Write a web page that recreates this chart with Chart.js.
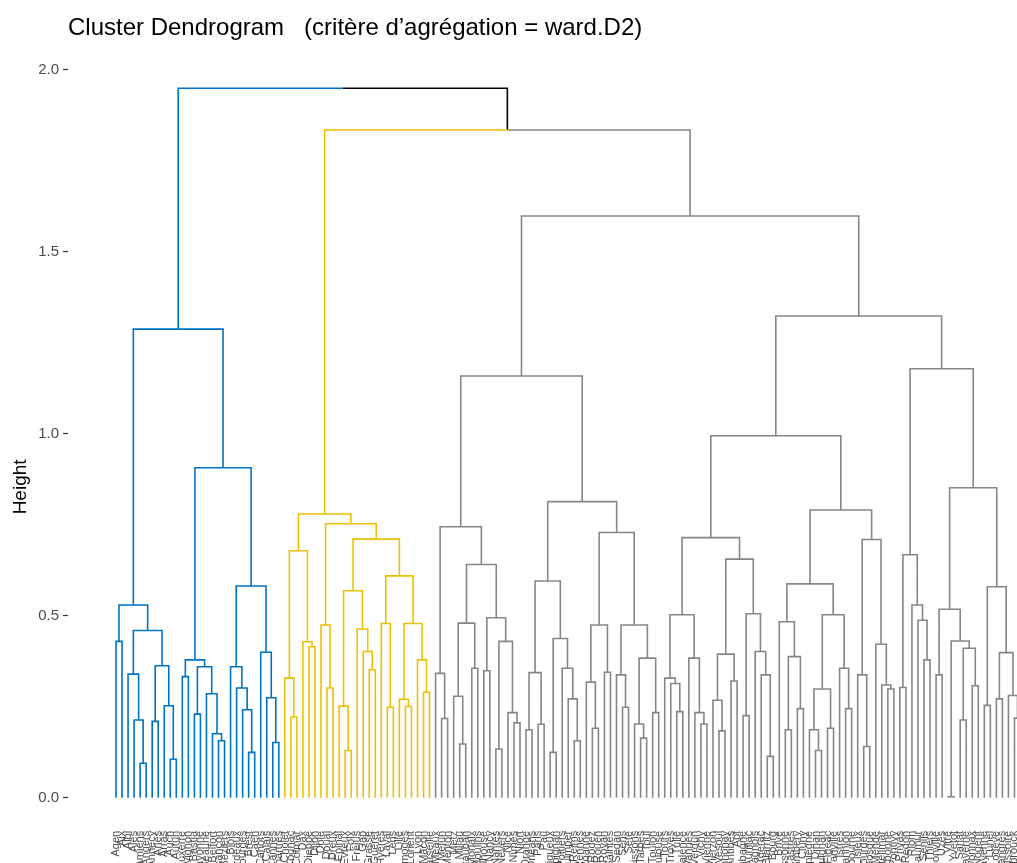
<!DOCTYPE html>
<html>
<head>
<meta charset="utf-8">
<script src="https://cdn.jsdelivr.net/npm/chart.js@4.4.1/dist/chart.umd.min.js"></script>
<style>
  html, body { margin: 0; padding: 0; overflow: hidden; background: #fff; }
  #wrap { width: 1017px; height: 924px; }
</style>
</head>
<body>
<div id="wrap"><canvas id="dend"></canvas></div>
<script>
// leaf marker; internal node = [height, left, right]
const o = null;

// cluster 1 (blue)
const blueTree = [1.288,
  [0.53, [0.43, o, o],
    [0.46, [0.34, o, [0.214, o, [0.095, o, o]]],
           [0.363, [0.21, o, o], [0.253, o, [0.106, o, o]]]]],
  [0.907,
    [0.379, [0.333, o, o], [0.36, [0.23, o, o], [0.286, o, [0.176, o, [0.157, o, o]]]]],
    [0.582, [0.36, o, [0.302, o, [0.242, o, [0.125, o, o]]]],
            [0.40, o, [0.275, o, [0.152, o, o]]]]]];

// cluster 2 (yellow)
const yellowTree = [0.78,
  [0.679, [0.329, o, [0.222, o, o]], [0.429, o, [0.415, o, o]]],
  [0.753, [0.475, o, [0.302, o, o]],
    [0.711,
      [0.569, [0.252, o, [0.13, o, o]], [0.464, o, [0.402, o, [0.352, o, o]]]],
      [0.61, [0.479, o, [0.249, o, o]],
             [0.479, [0.271, o, [0.251, o, o]], [0.379, o, [0.29, o, o]]]]]]];

// cluster 3 (grey)
const greyTree = [1.599,
  [1.159,
    [0.745, [0.342, o, [0.218, o, o]],
      [0.641, [0.48, [0.279, o, [0.148, o, o]], [0.356, o, o]],
              [0.495, [0.349, o, o], [0.43, [0.134, o, o], [0.234, o, [0.206, o, o]]]]]],
    [0.814,
      [0.596, [0.344, [0.187, o, o], [0.202, o, o]],
              [0.438, [0.125, o, o], [0.356, o, [0.272, o, [0.157, o, o]]]]],
      [0.729, [0.475, [0.318, o, [0.191, o, o]], [0.345, o, o]],
              [0.475, [0.338, o, [0.249, o, o]], [0.384, [0.203, o, [0.164, o, o]], [0.234, o, o]]]]]],
  [1.324,
    [0.995,
      [0.715,
        [0.503, [0.329, o, [0.314, o, [0.237, o, o]]], [0.384, o, [0.234, o, [0.203, o, o]]]],
        [0.656, [0.395, [0.268, o, [0.184, o, o]], [0.321, o, o]],
                [0.506, [0.226, o, o], [0.402, o, [0.338, o, [0.114, o, o]]]]]],
      [0.791,
        [0.588, [0.484, o, [0.388, [0.187, o, o], [0.245, o, o]]],
                [0.503, [0.299, [0.187, o, [0.13, o, o]], [0.191, o, o]], [0.356, o, [0.245, o, o]]]],
        [0.71, [0.338, o, [0.141, o, o]], [0.422, o, [0.31, o, [0.299, o, o]]]]]],
    [1.179,
      [0.668, [0.303, o, o], [0.53, o, [0.488, o, [0.379, o, o]]]],
      [0.852,
        [0.518, [0.338, o, o], [0.431, [0.003, o, o], [0.411, [0.214, o, o], [0.308, o, o]]]],
        [0.58, [0.254, o, o], [0.399, [0.272, o, o], [0.281, o, [0.219, o, o]]]]]]]];

// merges above the three clusters
const rootHeights = [1.95, 1.835];
const clusterTrees = [blueTree, yellowTree, greyTree];
const clusterColors = ['#0073C2', '#EFC000', '#868686'];
const linkColor = '#000000';

const yTicks = [0, 0.5, 1, 1.5, 2];

// leaf labels (not legible in the source, placeholders in leaf order)
const leafLabels = ('Agen Aix Albi Alès Amiens Angers Annecy Arles Arras Auch Autun Auxerre Avignon Bastia ' +
  'Bayonne Beaune Belfort Besançon Béziers Blois Bordeaux Bourges Brest Caen Cahors Calais Cannes Chartres ' +
  'Cholet Cognac Colmar Dax Dieppe Dijon Dole Douai Dreux Épinal Évreux Foix Fréjus Gap Grasse Guéret Hyères ' +
  'Laval Lens Lille Limoges Lorient Lyon Mâcon Marseille Meaux Melun Menton Metz Millau Montauban Morlaix ' +
  'Moulins Mulhouse Nancy Nantes Nevers Nice Nîmes Niort Orange Orléans Paris Pau Périgueux Perpignan Poitiers ' +
  'Quimper Reims Rennes Roanne Rodez Rouen Royan Saintes Sedan Sens Sète Soissons Tarbes Toul Toulon Toulouse ' +
  'Tours Troyes Tulle Valence Vannes Verdun Vichy Vienne Vierzon Vesoul Annonay Antibes Apt Aubagne Aurillac ' +
  'Bagnols Bergerac Biarritz Bourg Brive Carcassonne Castres Chambéry Cluny Compiègne Dinan Draguignan Figeac ' +
  'Granville Istres Lannion Libourne Lisieux Lourdes Manosque Mende Montélimar Narbonne Pontivy Privas Redon ' +
  'Riom Saumur Senlis Thiers Thionville Uzès Vitré Yvetot Sarlat Saverne Oyonnax Nogent Mayenne Lunel Lodève ' +
  'Langres Issoire Hazebrouck Guingamp').split(' ');

const titleText = 'Cluster Dendrogram   (critère d’agrégation = ward.D2)';
const FONT = "'Liberation Sans', Arial, sans-serif";

// ---- layout of the tree: leaves at 1..n, node at the middle of its children
const fullTree = [rootHeights[0], blueTree, [rootHeights[1], yellowTree, greyTree]];
let leafCount = 0;
const segs = {};

function place(node, color) {
  const ci = clusterTrees.indexOf(node);
  if (ci >= 0) color = clusterColors[ci];
  if (node === null) {
    leafCount += 1;
    return { x: leafCount, h: 0, color };
  }
  const kids = [place(node[1], color), place(node[2], color)];
  const me = { x: (kids[0].x + kids[1].x) / 2, h: node[0], color };
  kids.forEach(k => {
    const c = k.color || linkColor;
    (segs[c] = segs[c] || []).push(
      { x: me.x, y: me.h }, { x: k.x, y: me.h }, { x: k.x, y: k.h }, { x: k.x, y: null });
  });
  return me;
}
place(fullTree, null);

const drawOrder = [...clusterColors, linkColor];
const datasets = drawOrder.filter(c => segs[c]).map(c => ({
  data: segs[c],
  borderColor: c,
  borderWidth: 1.6,
  pointRadius: 0,
  pointHoverRadius: 0,
  fill: false,
  tension: 0,
  spanGaps: false,
  borderJoinStyle: 'miter'
}));

new Chart(document.getElementById('dend'), {
  type: 'line',
  data: { datasets },
  options: {
    responsive: true,
    maintainAspectRatio: false,
    animation: false,
    devicePixelRatio: 1,
    layout: { padding: 0, autoPadding: false },
    plugins: {
      legend: { display: false },
      tooltip: { enabled: false },
      title: {
        display: true,
        text: titleText,
        align: 'start',
        fullSize: false,
        color: '#000',
        font: { family: FONT, size: 24, weight: 'normal', lineHeight: 1.2 },
        padding: { top: 14, bottom: 7 }
      }
    },
    scales: {
      x: {
        type: 'linear',
        min: -6.96,
        max: 150.42,
        position: { y: -0.0907 },
        afterBuildTicks: s => { s.ticks = leafLabels.map((_, i) => ({ value: i + 1 })); },
        afterFit: s => { s.paddingLeft = 0; s.paddingRight = 0; s.paddingTop = 0; s.paddingBottom = 0; },
        ticks: {
          autoSkip: false,
          minRotation: 90,
          maxRotation: 90,
          padding: 0,
          color: '#4d4d4d',
          font: { family: FONT, size: 11 },
          callback: (v, i) => leafLabels[i]
        },
        grid: { display: false, drawTicks: false },
        border: { display: false }
      },
      y: {
        type: 'linear',
        min: -0.3467,
        max: 2.0555,
        position: 'left',
        afterFit: s => { s.width = 68; s.paddingTop = 0; s.paddingBottom = 0; },
        afterBuildTicks: s => { s.ticks = yTicks.map(v => ({ value: v })); },
        ticks: {
          color: '#4d4d4d',
          padding: 4,
          font: { family: FONT, size: 15 },
          callback: v => v.toFixed(1)
        },
        grid: { drawOnChartArea: false, drawTicks: true, tickLength: 5, tickColor: '#333', tickWidth: 1.2 },
        border: { display: false },
        title: {
          display: true,
          text: 'Height',
          color: '#000',
          font: { family: FONT, size: 19 },
          padding: { top: 9, bottom: 0 }
        }
      }
    }
  }
});
</script>
</body>
</html>
